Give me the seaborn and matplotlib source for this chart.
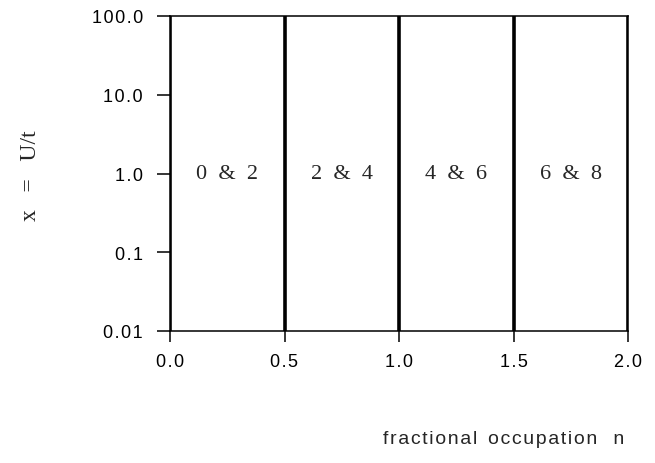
import matplotlib
matplotlib.use("Agg")
import matplotlib.pyplot as plt
import seaborn as sns
import pandas as pd
from matplotlib.ticker import FixedLocator, FixedFormatter, NullLocator

boundaries = [0.0, 0.5, 1.0, 1.5, 2.0]
region_centers = [0.25, 0.75, 1.25, 1.75]
region_labels = ["0 & 2", "2 & 4", "4 & 6", "6 & 8"]
y_ticks = [0.01, 0.1, 1.0, 10.0, 100.0]
y_tick_labels = ["0.01", "0.1", "1.0", "10.0", "100.0"]
x_ticks = [0.0, 0.5, 1.0, 1.5, 2.0]
x_tick_labels = ["0.0", "0.5", "1.0", "1.5", "2.0"]
y_min, y_max = 0.01, 100.0

sns.set_style("ticks")
plt.rcParams['font.family'] = ['Liberation Sans', 'DejaVu Sans']

HAIR = "\u200a"


def spaced(s):
    return HAIR.join(s)


fig = plt.figure(figsize=(6.55, 4.64), dpi=100)
ax = fig.add_axes([170/655, 1 - 332/464, (628-170)/655, (332-17)/464])

rows = []
for i, b in enumerate(boundaries):
    rows.append({"n": b, "x": y_min, "line": i})
    rows.append({"n": b, "x": y_max, "line": i})
df = pd.DataFrame(rows)
sns.lineplot(data=df, x="n", y="x", units="line", estimator=None,
             color="black", linewidth=2.6, ax=ax, legend=False)

ax.set_yscale("log")
ax.set_xlim(0.0, 2.0)
ax.set_ylim(y_min, y_max)
ax.yaxis.set_major_locator(FixedLocator(y_ticks))
ax.yaxis.set_major_formatter(FixedFormatter([spaced(t) for t in y_tick_labels]))
ax.yaxis.set_minor_locator(NullLocator())
ax.xaxis.set_major_locator(FixedLocator(x_ticks))
ax.xaxis.set_major_formatter(FixedFormatter([spaced(t) for t in x_tick_labels]))

for s in ax.spines.values():
    s.set_linewidth(1.1)
    s.set_color("black")
ax.tick_params(axis="y", direction="out", length=9.5, width=1.1,
               labelsize=13, colors="black", pad=10)
ax.tick_params(axis="x", direction="out", length=8, width=1.1,
               labelsize=13, colors="black", pad=8)
ax.set_xlabel("")
ax.set_ylabel("")

for cx, lab in zip(region_centers, region_labels):
    ax.text(cx, 1.0, lab.replace(" ", "  "), ha="center", va="center", fontsize=16,
            family="Liberation Serif")

fig.text(30/655, 1 - 176/464, "x   =   U/t", rotation=90, ha="center", va="center",
         fontsize=17, family="Liberation Serif")
fig.text(504/655, 1 - 440/464, spaced("fractional") + "  " + spaced("occupation") + "   n",
         ha="center", va="center", fontsize=14)

fig.savefig("out.png", dpi=100)
